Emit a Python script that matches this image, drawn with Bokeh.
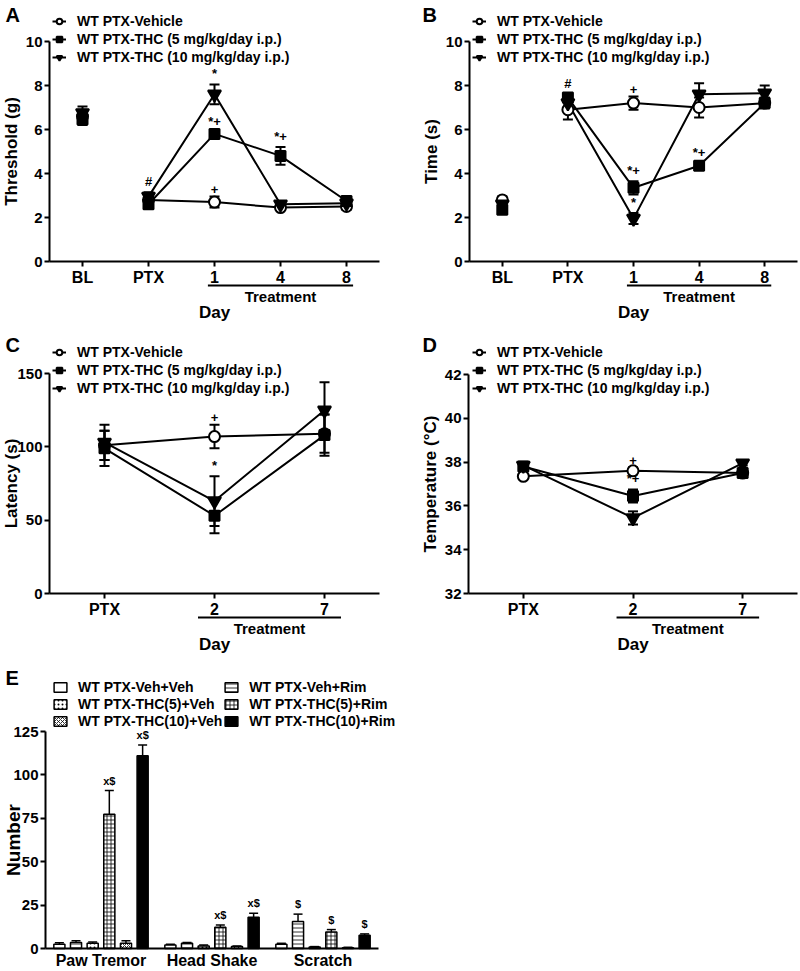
import math
from bokeh.plotting import figure
from bokeh.models import (ColumnDataSource, Whisker, TeeHead, Legend, LegendItem,
                          LinearAxis, FixedTicker, Range1d, Label)
from bokeh.layouts import column, row
from bokeh.embed import file_html
from bokeh.resources import INLINE
from bokeh.core.properties import value

FONT = "Liberation Sans"

series_keys = ["veh", "thc5", "thc10"]
series_labels = ["WT PTX-Vehicle", "WT PTX-THC (5 mg/kg/day i.p.)", "WT PTX-THC (10 mg/kg/day i.p.)"]

# ---------------- Panel A: threshold (g) ----------------
days_ab = ["BL", "PTX", "1", "4", "8"]
a_veh = [6.6, 2.8, 2.7, 2.45, 2.5]
a_veh_err = [0.3, 0.15, 0.25, 0.1, 0.15]
a_thc5 = [6.45, 2.6, 5.8, 4.8, 2.75]
a_thc5_err = [0.25, 0.15, 0.1, 0.4, 0.15]
a_thc10 = [6.75, 2.95, 7.6, 2.6, 2.65]
a_thc10_err = [0.3, 0.2, 0.45, 0.1, 0.2]
a_ticks = [0, 2, 4, 6, 8, 10]
a_marks = [("thc10", "PTX", "#"), ("thc10", "1", "*"), ("thc5", "1", "*+"),
           ("veh", "1", "+"), ("thc5", "4", "*+")]

# ---------------- Panel B: time (s) ----------------
b_veh = [2.8, 6.9, 7.2, 7.0, 7.2]
b_veh_err = [0.15, 0.45, 0.3, 0.45, 0.25]
b_thc5 = [2.35, 7.45, 3.35, 4.35, 7.2]
b_thc5_err = [0.15, 0.15, 0.3, 0.15, 0.2]
b_thc10 = [2.6, 7.2, 1.95, 7.6, 7.65]
b_thc10_err = [0.15, 0.3, 0.25, 0.5, 0.35]
b_ticks = [0, 2, 4, 6, 8, 10]
b_marks = [("thc5", "PTX", "#"), ("veh", "1", "+"), ("thc5", "1", "*+"),
           ("thc10", "1", "*"), ("thc5", "4", "*+")]

# ---------------- Panel C: latency (s) ----------------
days_cd = ["PTX", "2", "7"]
c_veh = [101, 107, 109]
c_veh_err = [10, 8, 13]
c_thc5 = [99, 53, 108]
c_thc5_err = [12, 12, 14]
c_thc10 = [103, 63, 125]
c_thc10_err = [12, 17, 19]
c_ticks = [0, 50, 100, 150]
c_marks = [("veh", "2", "+"), ("thc10", "2", "*")]

# ---------------- Panel D: temperature ----------------
d_veh = [37.35, 37.6, 37.5]
d_veh_err = [0.1, 0.15, 0.1]
d_thc5 = [37.8, 36.45, 37.5]
d_thc5_err = [0.1, 0.3, 0.1]
d_thc10 = [37.85, 35.45, 37.95]
d_thc10_err = [0.1, 0.3, 0.1]
d_ticks = [32, 34, 36, 38, 40, 42]
d_marks = [("veh", "2", "+"), ("thc5", "2", "*+"), ("thc10", "2", "*")]

# ---------------- Panel E: behaviours ----------------
e_groups = ["Paw Tremor", "Head Shake", "Scratch"]
e_keys = ["veh_veh", "veh_rim", "thc5_veh", "thc5_rim", "thc10_veh", "thc10_rim"]
e_labels = {"veh_veh": "WT PTX-Veh+Veh", "veh_rim": "WT PTX-Veh+Rim",
            "thc5_veh": "WT PTX-THC(5)+Veh", "thc5_rim": "WT PTX-THC(5)+Rim",
            "thc10_veh": "WT PTX-THC(10)+Veh", "thc10_rim": "WT PTX-THC(10)+Rim"}
e_veh_veh = [2.5, 2.0, 2.5]
e_veh_veh_err = [0.8, 0.5, 0.5]
e_veh_rim = [3.5, 3.0, 15.6]
e_veh_rim_err = [1.0, 0.5, 4.2]
e_thc5_veh = [3.0, 1.5, 0.8]
e_thc5_veh_err = [0.8, 0.5, 0.3]
e_thc5_rim = [77.3, 12.3, 9.5]
e_thc5_rim_err = [13.7, 1.3, 1.4]
e_thc10_veh = [3.0, 1.2, 0.5]
e_thc10_veh_err = [1.5, 0.3, 0.2]
e_thc10_rim = [111.0, 18.0, 7.6]
e_thc10_rim_err = [6.2, 2.3, 0.8]
e_ticks = [0, 25, 50, 75, 100, 125]
e_marks = [("thc5_rim", "Paw Tremor", "x$"), ("thc10_rim", "Paw Tremor", "x$"),
           ("thc5_rim", "Head Shake", "x$"), ("thc10_rim", "Head Shake", "x$"),
           ("veh_rim", "Scratch", "$"), ("thc5_rim", "Scratch", "$"), ("thc10_rim", "Scratch", "$")]


def style_axis(ax, size="15px"):
    ax.axis_line_width = 2
    ax.axis_line_color = "black"
    ax.major_tick_line_width = 2
    ax.major_tick_line_color = "black"
    ax.major_tick_out = 5
    ax.major_tick_in = 0
    ax.minor_tick_line_color = None
    ax.major_label_standoff = 2
    ax.major_label_text_font = FONT
    ax.major_label_text_font_style = "bold"
    ax.major_label_text_font_size = size
    ax.major_label_text_color = "black"


def make_fig(W, H, ax_px, xend_px, x_lo, x_hi, y0, y0_px, ytop, ytop_px):
    """Figure whose frame fills the whole canvas; axes are pinned with fixed_location."""
    ppx = (xend_px - ax_px) / (x_hi - x_lo)
    ppy = (y0_px - ytop_px) / (ytop - y0)
    xr = Range1d(x_lo - ax_px / ppx, x_lo + (W - ax_px) / ppx)
    yr = Range1d(y0 - (H - y0_px) / ppy, y0 + y0_px / ppy)
    p = figure(width=W, height=H, x_range=xr, y_range=yr, output_backend="svg",
               toolbar_location=None, title=None, x_axis_type=None, y_axis_type=None,
               min_border=0)
    p.outline_line_color = None
    p.background_fill_color = "white"
    p.border_fill_color = "white"
    return p, ppx, ppy


def txt(p, x, y, t, size, **kw):
    p.text(x=x, y=y, text=t, text_font=value(FONT), text_font_style="bold",
           text_font_size=size, text_color="black", **kw)


def add_letter(p, letter, x_px, top_px, H):
    p.add_layout(Label(x=x_px, y=H - top_px, x_units="screen", y_units="screen",
                       text=letter, text_baseline="top", text_align="left",
                       text_font=FONT, text_font_style="bold",
                       text_font_size="20px", text_color="black"))


def add_y_axis(p, x_lo, y0, ytop, yticks, ylabel, lab_off, lab_size):
    yax = LinearAxis(ticker=FixedTicker(ticks=yticks), bounds=(y0, ytop), fixed_location=x_lo)
    style_axis(yax)
    p.add_layout(yax, "left")
    txt(p, [x_lo], [(y0 + ytop) / 2], [ylabel], lab_size, angle=math.pi / 2,
        x_offset=-lab_off, text_align="center", text_baseline="bottom")


def line_panel(letter, days, vals, errs, marks, y0, ytop, yticks, ylabel, first_treat,
               treat_pad, W, H, ax_px, xend_px, y0_px, ytop_px, letter_xy, legend_xy):
    n = len(days)
    xs = list(range(1, n + 1))
    x_lo, x_hi = 0.5, n + 0.5
    p, ppx, ppy = make_fig(W, H, ax_px, xend_px, x_lo, x_hi, y0, y0_px, ytop, ytop_px)

    add_y_axis(p, x_lo, y0, ytop, yticks, ylabel, 29, "17px")

    xax = LinearAxis(ticker=FixedTicker(ticks=xs), bounds=(x_lo, x_hi), fixed_location=y0,
                     major_label_overrides={x: d for x, d in zip(xs, days)})
    style_axis(xax, "16px")
    xax.major_label_standoff = 2
    p.add_layout(xax, "below")

    # treatment underline + labels below the x axis
    t0 = days.index(first_treat) + 1
    y_line = y0 - 24 / ppy
    p.segment(x0=[t0 - treat_pad], y0=[y_line], x1=[n + treat_pad], y1=[y_line],
              line_width=2, line_color="black")
    txt(p, [(t0 + n) / 2], [y0 - 35 / ppy], ["Treatment"], "15px",
        text_align="center", text_baseline="middle")
    txt(p, [(1 + n) / 2], [y0 - 51 / ppy], ["Day"], "17px",
        text_align="center", text_baseline="middle")

    line_start = days.index("PTX")
    styles = {"veh": ("circle", 11, "white"), "thc5": ("square", 10, "black"),
              "thc10": ("inverted_triangle", 13, "black")}
    line_r = {}
    for k in series_keys:
        v, e = vals[k], errs[k]
        src = ColumnDataSource(dict(x=xs, lo=[a - b for a, b in zip(v, e)],
                                    hi=[a + b for a, b in zip(v, e)]))
        p.add_layout(Whisker(source=src, base="x", upper="hi", lower="lo", line_width=2,
                             line_color="black",
                             upper_head=TeeHead(size=10, line_width=2, line_color="black"),
                             lower_head=TeeHead(size=10, line_width=2, line_color="black")))
        line_r[k] = p.line(xs[line_start:], v[line_start:], line_width=2, line_color="black")
    items = []
    for k, lab in zip(series_keys, series_labels):
        mk, sz, fc = styles[k]
        r = p.scatter(xs, vals[k], marker=mk, size=sz, fill_color=fc,
                      line_color="black", line_width=2)
        items.append(LegendItem(label=lab, renderers=[line_r[k], r]))

    mx, my, mt = [], [], []
    for k, d, t in marks:
        i = days.index(d)
        mx.append(xs[i])
        my.append(vals[k][i] + errs[k][i])
        mt.append(t)
    txt(p, mx, my, mt, "13px", text_align="center", text_baseline="bottom", y_offset=-3)

    n_items, item_h, gap = len(items), 16, 2
    leg_h = n_items * item_h + (n_items - 1) * gap
    lx, ltop = legend_xy
    leg = Legend(items=items, location=(lx, H - ltop - leg_h), border_line_color=None,
                 background_fill_alpha=0, padding=0, margin=0, spacing=gap,
                 glyph_width=14, glyph_height=item_h, label_height=item_h, label_standoff=11,
                 label_text_font=FONT, label_text_font_style="bold", label_text_font_size="14px",
                 label_text_color="black")
    p.add_layout(leg)
    add_letter(p, letter, letter_xy[0], letter_xy[1], H)
    return p


H1, H2, H3 = 322, 335, 313
WL, WR = 400, 398
pA = line_panel("A", days_ab, dict(veh=a_veh, thc5=a_thc5, thc10=a_thc10),
                dict(veh=a_veh_err, thc5=a_thc5_err, thc10=a_thc10_err), a_marks,
                0, 10, a_ticks, "Threshold (g)", "1", 0.1,
                W=WL, H=H1, ax_px=49, xend_px=379, y0_px=261, ytop_px=41,
                letter_xy=(5, 3), legend_xy=(52, 13))
pB = line_panel("B", days_ab, dict(veh=b_veh, thc5=b_thc5, thc10=b_thc10),
                dict(veh=b_veh_err, thc5=b_thc5_err, thc10=b_thc10_err), b_marks,
                0, 10, b_ticks, "Time (s)", "1", 0.1,
                W=WR, H=H1, ax_px=69, xend_px=397, y0_px=261, ytop_px=41,
                letter_xy=(22, 3), legend_xy=(72, 13))
pC = line_panel("C", days_cd, dict(veh=c_veh, thc5=c_thc5, thc10=c_thc10),
                dict(veh=c_veh_err, thc5=c_thc5_err, thc10=c_thc10_err), c_marks,
                0, 150, c_ticks, "Latency (s)", "2", 0.15,
                W=WL, H=H2, ax_px=49, xend_px=379, y0_px=271, ytop_px=51,
                letter_xy=(5, 11), legend_xy=(52, 22))
pD = line_panel("D", days_cd, dict(veh=d_veh, thc5=d_thc5, thc10=d_thc10),
                dict(veh=d_veh_err, thc5=d_thc5_err, thc10=d_thc10_err), d_marks,
                32, 42, d_ticks, "Temperature (\u00b0C)", "2", 0.15,
                W=WR, H=H2, ax_px=68, xend_px=397, y0_px=271, ytop_px=52,
                letter_xy=(22, 11), legend_xy=(72, 22))

# ---------------- Panel E figure ----------------
e_vals = dict(veh_veh=e_veh_veh, veh_rim=e_veh_rim, thc5_veh=e_thc5_veh,
              thc5_rim=e_thc5_rim, thc10_veh=e_thc10_veh, thc10_rim=e_thc10_rim)
e_errs = dict(veh_veh=e_veh_veh_err, veh_rim=e_veh_rim_err, thc5_veh=e_thc5_veh_err,
              thc5_rim=e_thc5_rim_err, thc10_veh=e_thc10_veh_err, thc10_rim=e_thc10_rim_err)
e_hatch = dict(veh_veh=(" ", "white"), veh_rim=("horizontal_line", "white"),
               thc5_veh=("dot", "white"), thc5_rim=("cross", "white"),
               thc10_veh=("diagonal_cross", "white"), thc10_rim=(" ", "black"))

gx = list(range(1, len(e_groups) + 1))
ex_lo, ex_hi = 0.5, len(e_groups) + 0.5
EW = 430
pE, eppx, eppy = make_fig(EW, H3, 45, 378, ex_lo, ex_hi, 0, 291, 125, 74)
add_y_axis(pE, ex_lo, 0, 125, e_ticks, "Number", 22, "19px")
exax = LinearAxis(ticker=FixedTicker(ticks=gx), bounds=(ex_lo, ex_hi), fixed_location=0,
                  major_label_overrides={x: g for x, g in zip(gx, e_groups)})
style_axis(exax, "16px")
exax.major_tick_line_color = None
exax.major_tick_out = 0
exax.major_label_standoff = 3
pE.add_layout(exax, "below")

pitch = 0.15
bar_w = 0.1
e_items = {}
e_xpos = {}
for i, k in enumerate(e_keys):
    off = (i - (len(e_keys) - 1) / 2) * pitch
    xp = [g + off for g in gx]
    e_xpos[k] = xp
    v, e = e_vals[k], e_errs[k]
    src = ColumnDataSource(dict(x=xp, top=v, hi=[a + b for a, b in zip(v, e)]))
    pE.add_layout(Whisker(source=src, base="x", upper="hi", lower="top", line_width=1.5,
                          line_color="black",
                          upper_head=TeeHead(size=9, line_width=1.5, line_color="black"),
                          lower_head=None))
    hp, fc = e_hatch[k]
    r = pE.vbar(x="x", top="top", bottom=0, width=bar_w, source=src, fill_color=fc,
                line_color="black", line_width=1.5, hatch_pattern=hp, hatch_color="black",
                hatch_scale=4, hatch_weight=0.8)
    e_items[k] = LegendItem(label=e_labels[k], renderers=[r])

emx, emy, emt = [], [], []
for k, g, t in e_marks:
    j = e_groups.index(g)
    emx.append(e_xpos[k][j])
    emy.append(e_vals[k][j] + e_errs[k][j])
    emt.append(t)
txt(pE, emx, emy, emt, "11px", text_align="center", text_baseline="bottom", y_offset=-4)

e_order = ["veh_veh", "thc5_veh", "thc10_veh", "veh_rim", "thc5_rim", "thc10_rim"]
e_item_h, e_gap = 16, 1
e_leg_h = 3 * e_item_h + 2 * e_gap
eleg = Legend(items=[e_items[k] for k in e_order], location=(52, H3 - 22 - e_leg_h), nrows=3,
              border_line_color=None, background_fill_alpha=0, padding=0, margin=0,
              spacing=e_gap, glyph_width=16, glyph_height=12, label_height=e_item_h,
              label_standoff=10, label_text_font=FONT, label_text_font_style="bold",
              label_text_font_size="14px", label_text_color="black")
pE.add_layout(eleg)
add_letter(pE, "E", 5, 9, H3)

layout = column(row(pA, pB), row(pC, pD), pE)
open("out.html", "w").write(file_html(layout, INLINE))
